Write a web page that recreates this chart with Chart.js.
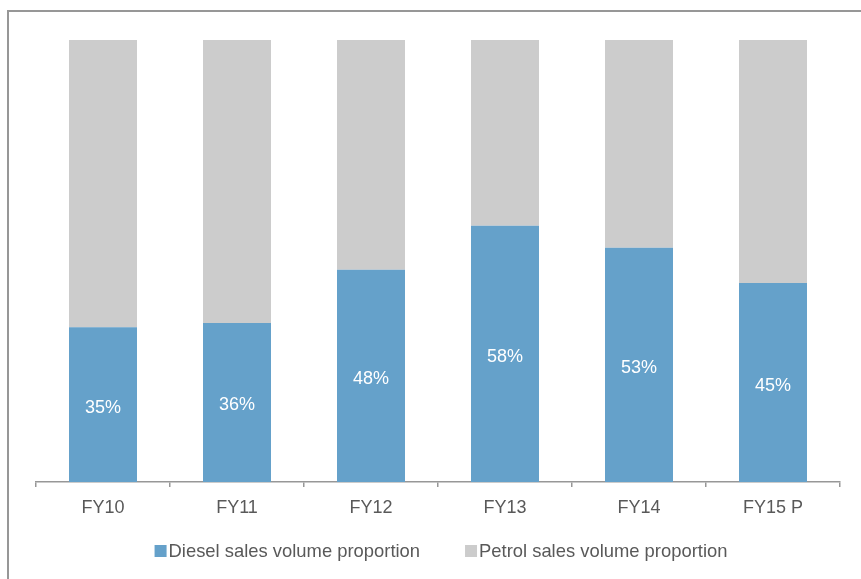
<!DOCTYPE html>
<html><head><meta charset="utf-8">
<script src="https://cdn.jsdelivr.net/npm/chart.js@4/dist/chart.umd.min.js"></script>
<style>html,body{margin:0;padding:0;background:#fff;}#wrap{position:absolute;left:0;top:0;width:861px;height:579px;}</style>
</head><body><div id="wrap"><canvas id="c" width="861" height="579"></canvas></div>
<script>
const categories = ["FY10","FY11","FY12","FY13","FY14","FY15 P"];
const dieselShare = [35,36,48,58,53,45];
const petrolShare = [65,64,52,42,47,55];
const seriesNames = ["Diesel sales volume proportion","Petrol sales volume proportion"];
const FONT = "'Liberation Sans', Arial, sans-serif";

const framePlugin = {
  id: 'frame',
  beforeDraw(chart){
    const ctx = chart.ctx;
    ctx.save();
    ctx.strokeStyle = '#979797';
    ctx.lineWidth = 2;
    ctx.beginPath();
    ctx.moveTo(8, 579);
    ctx.lineTo(8, 11);
    ctx.lineTo(861, 11);
    ctx.stroke();
    ctx.restore();
  }
};

const labelPlugin = {
  id: 'vals',
  afterDatasetsDraw(chart){
    const ctx = chart.ctx;
    const meta = chart.getDatasetMeta(0);
    ctx.save();
    ctx.fillStyle = '#ffffff';
    ctx.font = '18px ' + FONT;
    ctx.textAlign = 'center';
    ctx.textBaseline = 'middle';
    meta.data.forEach((bar, i) => {
      const p = bar.getProps(['x','y','base'], true);
      ctx.fillText(dieselShare[i] + '%', p.x, (p.y + p.base) / 2 + 3);
    });
    ctx.restore();
  }
};

const legendPlugin = {
  id: 'legendDraw',
  afterDraw(chart){
    const ctx = chart.ctx;
    ctx.save();
    ctx.font = '18.4px ' + FONT;
    ctx.textBaseline = 'middle';
    ctx.textAlign = 'left';
    const y = 551;
    const box = 12, gap = 2, itemGap = 45;
    const widths = chart.data.datasets.map(d => box + gap + ctx.measureText(d.label).width);
    const total = widths.reduce((a,b)=>a+b,0) + itemGap*(widths.length-1);
    let x = 441 - total/2;
    chart.data.datasets.forEach((d, i) => {
      ctx.fillStyle = d.backgroundColor;
      ctx.fillRect(x, y - 6, box, box);
      ctx.fillStyle = '#595959';
      ctx.fillText(d.label, x + box + gap, y + 1);
      x += widths[i] + itemGap;
    });
    ctx.restore();
  }
};

new Chart(document.getElementById('c'), {
  type: 'bar',
  data: {
    labels: categories,
    datasets: [
      { label: seriesNames[0], data: dieselShare, backgroundColor: '#65A1CA', borderWidth: 0 },
      { label: seriesNames[1], data: petrolShare, backgroundColor: '#CCCCCC', borderWidth: 0 }
    ]
  },
  options: {
    responsive: false,
    animation: false,
    events: [],
    layout: { padding: { left: 36, right: 21, top: 40, bottom: 0 } },
    datasets: { bar: { barPercentage: 1, categoryPercentage: 68/134 } },
    plugins: { legend: { display: false }, tooltip: { enabled: false } },
    scales: {
      x: {
        stacked: true,
        offset: true,
        afterFit(s){ s.height = 97; },
        grid: { display: true, drawOnChartArea: false, drawTicks: true, tickLength: 5, color: '#979797', lineWidth: 1.5, offset: true },
        border: { display: true, color: '#979797', width: 1.5 },
        ticks: { color: '#595959', font: { family: FONT, size: 18 }, padding: 10, maxRotation: 0 }
      },
      y: {
        stacked: true,
        display: false,
        min: 0, max: 100
      }
    }
  },
  plugins: [framePlugin, labelPlugin, legendPlugin]
});
</script></body></html>
